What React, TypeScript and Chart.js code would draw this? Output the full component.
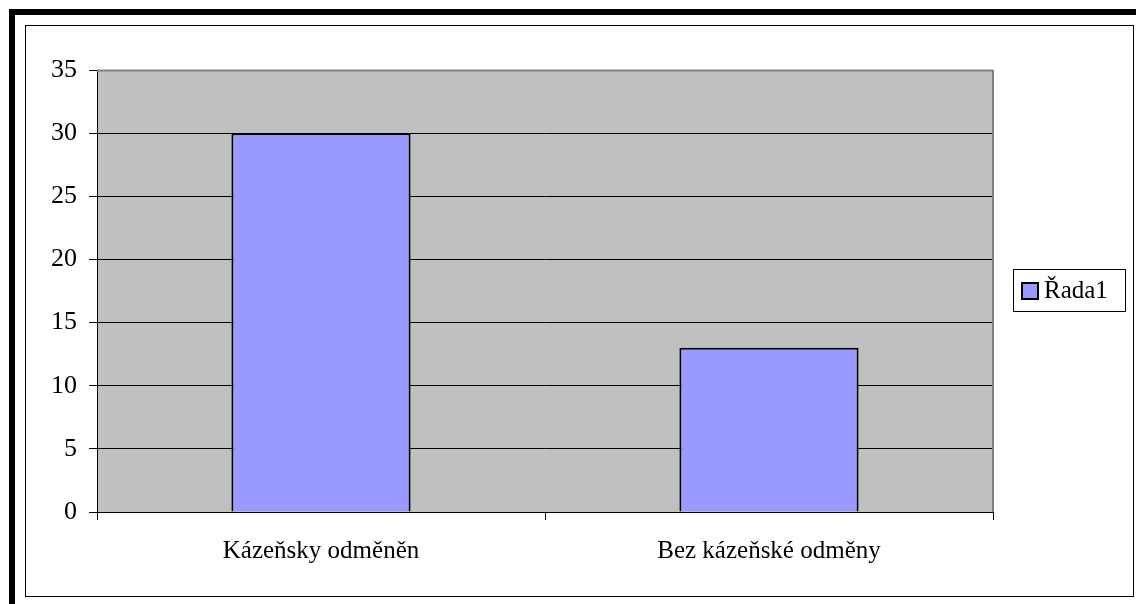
import React, { useEffect, useRef } from "react";
import { Chart, registerables } from "chart.js";

Chart.register(...registerables);

const categories: string[] = ["Kázeňsky odměněn", "Bez kázeňské odměny"];
const seriesName = "Řada1";
const seriesValues: number[] = [30, 13];
const yMax = 35;
const yStep = 5;

const FONT = "'Liberation Serif', 'Times New Roman', serif";

const plotBg = {
  id: "plotBg",
  beforeDraw(chart: any) {
    const { ctx, chartArea } = chart;
    ctx.save();
    ctx.fillStyle = "#C0C0C0";
    ctx.fillRect(chartArea.left, chartArea.top, chartArea.right - chartArea.left, chartArea.bottom - chartArea.top);
    ctx.restore();
  },
  afterDatasetsDraw(chart: any) {
    const { ctx, chartArea } = chart;
    ctx.save();
    ctx.strokeStyle = "#808080";
    ctx.lineWidth = 2;
    ctx.beginPath();
    ctx.moveTo(chartArea.left, chartArea.top + 0.5);
    ctx.lineTo(chartArea.right, chartArea.top + 0.5);
    ctx.moveTo(chartArea.right, chartArea.top);
    ctx.lineTo(chartArea.right, chartArea.bottom);
    ctx.stroke();
    ctx.restore();
  },
};

const boxLegend = {
  id: "boxLegend",
  afterDraw(chart: any) {
    const { ctx } = chart;
    const ds = chart.data.datasets[0];
    const x = 1013, y = 269, w = 112, h = 42;
    ctx.save();
    ctx.fillStyle = "#FFFFFF";
    ctx.fillRect(x, y, w, h);
    ctx.strokeStyle = "#000000";
    ctx.lineWidth = 1;
    ctx.strokeRect(x + 0.5, y + 0.5, w, h);
    ctx.fillStyle = ds.backgroundColor;
    ctx.fillRect(x + 9, y + 14, 16, 16);
    ctx.lineWidth = 2;
    ctx.strokeRect(x + 9, y + 14, 16, 16);
    ctx.fillStyle = "#000000";
    ctx.font = `25px ${FONT}`;
    ctx.textBaseline = "middle";
    ctx.textAlign = "left";
    ctx.fillText(ds.label, x + 31, y + 22);
    ctx.restore();
  },
};

export default function App() {
  const ref = useRef<HTMLCanvasElement | null>(null);
  useEffect(() => {
    if (!ref.current) return;
    const chart = new Chart(ref.current, {
      type: "bar",
      data: {
        labels: categories,
        datasets: [
          {
            label: seriesName,
            data: seriesValues,
            backgroundColor: "#9999FF",
            borderColor: "#000000",
            borderWidth: 2,
            barPercentage: 0.4,
            categoryPercentage: 1,
          },
        ],
      },
      options: {
        animation: false,
        responsive: false,
        maintainAspectRatio: false,
        layout: { padding: { left: 0, top: 70, right: 143, bottom: 0 } },
        plugins: { legend: { display: false }, tooltip: { enabled: false } },
        scales: {
          x: {
            grid: {
              offset: true,
              drawOnChartArea: false,
              drawTicks: true,
              tickLength: 8,
              color: "#000000",
            },
            border: { color: "#000000", width: 1 },
            ticks: {
              color: "#000000",
              font: { family: FONT, size: 25 },
              padding: 16,
              maxRotation: 0,
            },
            afterFit(scale: any) {
              scale.height = 92;
            },
          },
          y: {
            min: 0,
            max: yMax,
            ticks: {
              stepSize: yStep,
              color: "#000000",
              font: { family: FONT, size: 26 },
              padding: 12,
            },
            grid: { color: "#000000", lineWidth: 1, tickLength: 8 },
            border: { color: "#000000", width: 1 },
            afterFit(scale: any) {
              scale.width = 97;
            },
          },
        },
      },
      plugins: [plotBg, boxLegend],
    });
    return () => chart.destroy();
  }, []);

  return (
    <div style={{ position: "fixed", left: 0, top: 0, width: 1136, height: 604, background: "#fff", overflow: "hidden" }}>
      <div
        style={{
          position: "absolute",
          left: 9,
          top: 9,
          width: 1200,
          height: 700,
          borderLeft: "6px solid #000",
          borderTop: "6px solid #000",
          boxSizing: "border-box",
        }}
      />
      <div
        style={{
          position: "absolute",
          left: 25,
          top: 25,
          width: 1109,
          height: 572,
          border: "1px solid #000",
          boxSizing: "border-box",
        }}
      />
      <canvas ref={ref} width={1136} height={604} style={{ position: "absolute", left: 0, top: 0 }} />
    </div>
  );
}
